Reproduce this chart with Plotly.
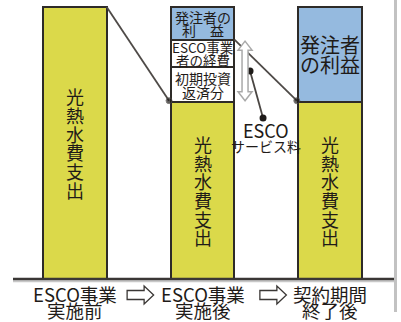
import plotly.graph_objects as go

# Stage labels (two lines each)
stage_line1 = ["ESCO事業", "ESCO事業", "契約期間"]
stage_line2 = ["実施前", "実施後", "終了後"]

# Stacked components of each stage (share of the original utility spend)
utility = [100, 65, 65]          # 光熱水費支出
repayment = [0, 13, 0]           # 初期投資返済分
esco_cost = [0, 10, 0]           # ESCO事業者の経費
owner_benefit = [0, 12, 35]      # 発注者の利益

utility_text = "光熱水費支出"
repay_lines = ["初期投資", "返済分"]
esco_lines = ["ESCO事業", "者の経費"]
benefit_lines_small = ["発注者の", "利　益"]
benefit_lines_large = ["発注者", "の利益"]
service_lines = ["ESCO", "サービス料"]

W, H = 401, 322
X_PX = 127.75          # pixels per category step
Y_PX = 2.72            # pixels per value unit
X0_PX = 74.75          # pixel centre of the first category
BASE_PX = 279          # pixel row of the zero line
BAR_W = 0.50

x_range = [-X0_PX / X_PX, (W - X0_PX) / X_PX]
y_range = [-(H - BASE_PX) / Y_PX, BASE_PX / Y_PX]


def dx(px):
    return px / X_PX


def dy(px):
    return px / Y_PX


FONT = "Noto Sans CJK JP, Noto Sans, sans-serif"
INK = "#1f1b18"
YELLOW = "#dbd94a"
BLUE = "#95badf"
EDGE = "#2e2b28"

cats = list(range(len(utility)))
fig = go.Figure()


def add_segment(values, color):
    xs = [c for c, v in zip(cats, values) if v]
    ys = [v for v in values if v]
    fig.add_trace(go.Bar(
        x=xs, y=ys, width=BAR_W,
        marker=dict(color=color, line=dict(color=EDGE, width=2)),
        hoverinfo="skip", showlegend=False,
    ))


add_segment(utility, YELLOW)
add_segment(repayment, "white")
add_segment(esco_cost, "white")
add_segment(owner_benefit, BLUE)

annotations = []


def label(x, y, text, size, yshift=0, color=INK, xshift=0):
    annotations.append(dict(
        x=x, y=y, xref="x", yref="y", text=text, showarrow=False,
        font=dict(family=FONT, size=size, color=color),
        xanchor="center", yanchor="middle", yshift=yshift, xshift=xshift,
        borderpad=0,
    ))


# Vertical text for the utility-spend segment of each bar
for c in cats:
    centre = utility[c] / 2
    n = len(utility_text)
    for i, ch in enumerate(utility_text):
        label(c, centre, ch, 18, yshift=-(i - (n - 1) / 2) * 18.7)


def two_lines(c, y, lines, size, gap):
    label(c, y, lines[0], size, yshift=gap / 2)
    label(c, y, lines[1], size, yshift=-gap / 2)


# Segment captions
for c in cats:
    base = utility[c]
    if repayment[c]:
        two_lines(c, base + repayment[c] / 2, repay_lines, 14, 14)
        base += repayment[c]
    if esco_cost[c]:
        two_lines(c, base + esco_cost[c] / 2, esco_lines, 13.5, 13)
        base += esco_cost[c]
    if owner_benefit[c]:
        mid = base + owner_benefit[c] / 2
        if owner_benefit[c] > 20:
            two_lines(c, mid, benefit_lines_large, 20, 20.5)
        else:
            two_lines(c, mid, benefit_lines_small, 14, 13)

# Stage labels under the baseline
for c in cats:
    label(c, 0, stage_line1[c], 18.5, yshift=-14.5)
    label(c, 0, stage_line2[c], 18.5, yshift=-31)

shapes = []

# Baseline with soft shadow
shapes.append(dict(type="line", xref="paper", yref="y", x0=13 / W, x1=395 / W,
                   y0=-dy(2.2), y1=-dy(2.2), line=dict(color="#c8c8c8", width=2)))
shapes.append(dict(type="line", xref="paper", yref="y", x0=13 / W, x1=395 / W,
                   y0=0, y1=0, line=dict(color="#3a3735", width=2.5)))

# Grey rule along the right edge
shapes.append(dict(type="line", xref="paper", yref="paper", x0=395.5 / W, x1=395.5 / W,
                   y0=1, y1=(H - 312) / H, line=dict(color="#c2c2c2", width=3)))

# Connectors: before -> after, after -> end of contract
top = [utility[c] + repayment[c] + esco_cost[c] + owner_benefit[c] for c in cats]
connectors = [
    ((0 + BAR_W / 2, top[0]), (1 - BAR_W / 2, utility[1])),
    ((1 + BAR_W / 2, utility[1] + repayment[1] + esco_cost[1]), (2 - BAR_W / 2, utility[2])),
]
for (xa, ya), (xb, yb) in connectors:
    fig.add_trace(go.Scatter(
        x=[xa, xb - dx(1.5)], y=[ya, yb + dy(1.5)], mode="lines+markers",
        line=dict(color="#4e4a47", width=1.8),
        marker=dict(size=[0, 6], color="#1e1b19", symbol="circle"),
        hoverinfo="skip", showlegend=False,
    ))

# Double-headed hollow arrow spanning the ESCO service fee
ax = 1 + BAR_W / 2 + dx(10.6)
yT = utility[1] + repayment[1] + esco_cost[1] - dy(1.5)
yB = utility[1] + dy(1.5)
hw, sw, hl = dx(7), dx(3), dy(9)
pts = [(ax, yT), (ax + hw, yT - hl), (ax + sw, yT - hl), (ax + sw, yB + hl),
       (ax + hw, yB + hl), (ax, yB), (ax - hw, yB + hl), (ax - sw, yB + hl),
       (ax - sw, yT - hl), (ax - hw, yT - hl)]
path = "M " + " L ".join(f"{px:.5f},{py:.5f}" for px, py in pts) + " Z"
shapes.append(dict(type="path", xref="x", yref="y", path=path,
                   fillcolor="white", line=dict(color="#a9a9a9", width=1.5)))

# Leader from the arrow to the service-fee caption
mid_fee = (yT + yB) / 2
lead_start = (ax + dx(5), mid_fee)
lead_end = (ax + dx(18), mid_fee - dy(47))
fig.add_trace(go.Scatter(
    x=[lead_start[0], lead_end[0]], y=[lead_start[1], lead_end[1]],
    mode="lines+markers", line=dict(color="#4a4643", width=1.8),
    marker=dict(size=7, color="#1e1b19"), hoverinfo="skip", showlegend=False,
))
label(ax + dx(21), lead_end[1], service_lines[0], 18, yshift=-12)
label(ax + dx(21), lead_end[1], service_lines[1], 14, yshift=-28)

# Hollow right arrows between the stage labels
arrow_offsets_px = [1.5, 6.5]
for k, off in enumerate(arrow_offsets_px):
    x0 = k + 0.5 + dx(off) - dx(13)
    yc = -dy(16)
    sh, hh = dy(4.5), dy(9)
    xs_, xh_ = x0 + dx(17), x0 + dx(26.5)
    apts = [(x0, yc + sh), (xs_, yc + sh), (xs_, yc + hh), (xh_, yc), (xs_, yc - hh),
            (xs_, yc - sh), (x0, yc - sh)]
    apath = "M " + " L ".join(f"{px:.5f},{py:.5f}" for px, py in apts) + " Z"
    shapes.append(dict(type="path", xref="x", yref="y", path=apath,
                       fillcolor="white", line=dict(color="#3a3735", width=1.3)))

fig.update_layout(
    width=W, height=H, barmode="stack", bargap=0,
    margin=dict(l=0, r=0, t=0, b=0),
    paper_bgcolor="white", plot_bgcolor="white",
    xaxis=dict(range=x_range, visible=False, fixedrange=True),
    yaxis=dict(range=y_range, visible=False, fixedrange=True),
    annotations=annotations, shapes=shapes,
)

fig.write_html("out.html", config={"displayModeBar": False})
